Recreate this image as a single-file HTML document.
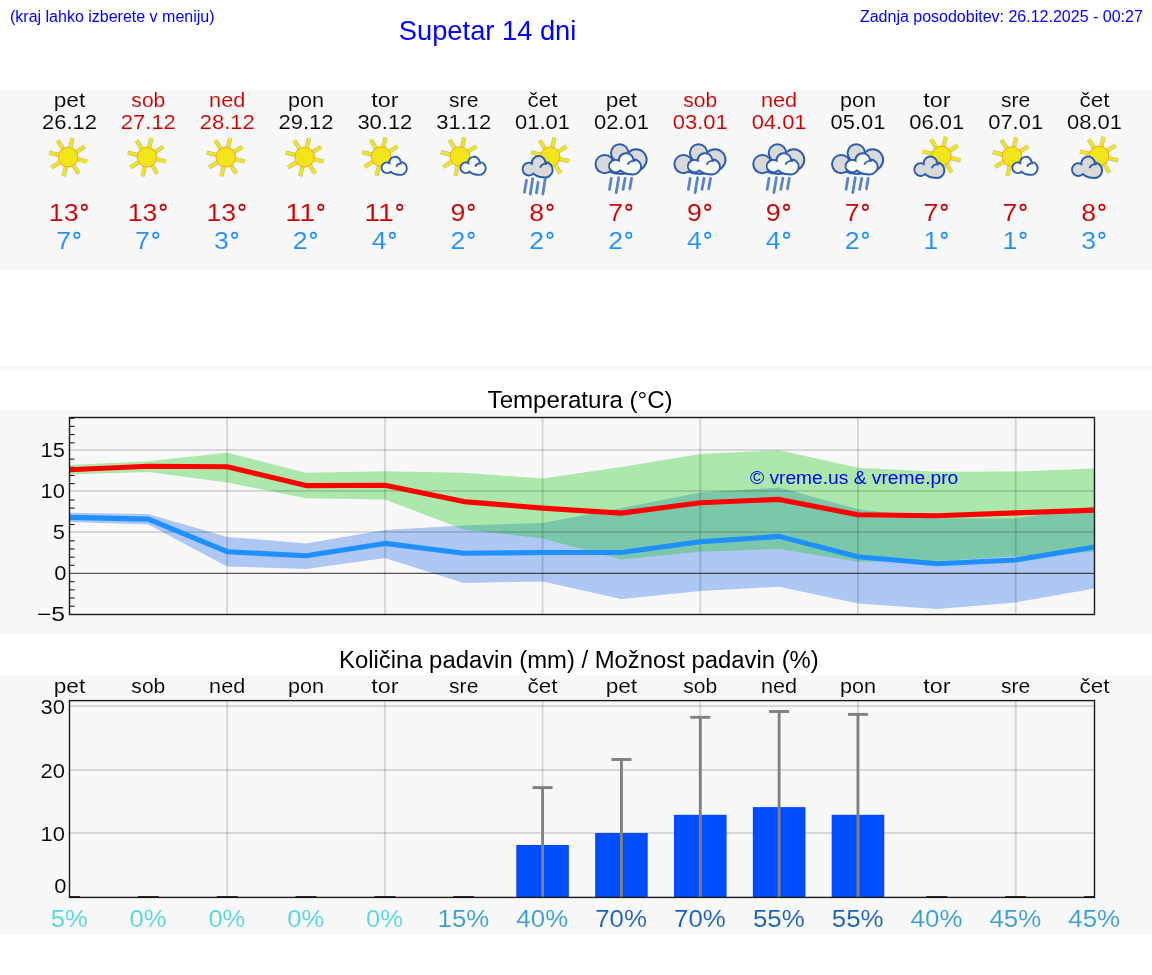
<!DOCTYPE html>
<html><head><meta charset="utf-8"><title>Supetar 14 dni</title><style>
html,body{margin:0;padding:0;background:#fff;width:1152px;height:975px;overflow:hidden}
svg{display:block;will-change:transform}text{font-family:"Liberation Sans",sans-serif}
</style></head><body>
<svg width="1152" height="975" viewBox="0 0 1152 975">
<defs>
<g id="sun">
<g stroke="#8c8c78" stroke-width="4.3" stroke-linecap="butt" opacity="0.6"><line x1="2.02" y1="-8.77" x2="4.41" y2="-19.10"/><line x1="7.63" y1="-4.77" x2="16.62" y2="-10.39"/><line x1="8.77" y1="2.02" x2="19.10" y2="4.41"/><line x1="4.77" y1="7.63" x2="10.39" y2="16.62"/><line x1="-2.02" y1="8.77" x2="-4.41" y2="19.10"/><line x1="-7.63" y1="4.77" x2="-16.62" y2="10.39"/><line x1="-8.77" y1="-2.02" x2="-19.10" y2="-4.41"/><line x1="-4.77" y1="-7.63" x2="-10.39" y2="-16.62"/></g>
<g stroke="#f2e61a" stroke-width="3.1" stroke-linecap="butt"><line x1="2.02" y1="-8.77" x2="4.41" y2="-19.10"/><line x1="7.63" y1="-4.77" x2="16.62" y2="-10.39"/><line x1="8.77" y1="2.02" x2="19.10" y2="4.41"/><line x1="4.77" y1="7.63" x2="10.39" y2="16.62"/><line x1="-2.02" y1="8.77" x2="-4.41" y2="19.10"/><line x1="-7.63" y1="4.77" x2="-16.62" y2="10.39"/><line x1="-8.77" y1="-2.02" x2="-19.10" y2="-4.41"/><line x1="-4.77" y1="-7.63" x2="-10.39" y2="-16.62"/></g>
<circle r="9.8" fill="#f2e61a" stroke="#f6ad20" stroke-width="1.1"/>
</g>
<circle id="dummy" r="0"/>
</defs>
<rect x="0" y="90" width="1152" height="180" fill="#f8f8f8"/>
<rect x="0" y="365" width="1152" height="5" fill="#f8f8f8"/>
<rect x="0" y="410" width="1152" height="225" fill="#f8f8f8"/>
<rect x="0" y="675" width="1152" height="260" fill="#f8f8f8"/>
<text x="10" y="22" font-size="16" fill="#0000ff">(kraj lahko izberete v meniju)</text>
<text x="398.8" y="39.5" font-size="27.3" fill="#0000ff">Supetar 14 dni</text>
<text x="1142.8" y="22" font-size="16" fill="#0000ff" text-anchor="end">Zadnja posodobitev: 26.12.2025 - 00:27</text>
<text x="487.6" y="407.8" font-size="24.1" fill="#000">Temperatura (°C)</text>
<text x="339" y="667.9" font-size="23.85" fill="#000">Količina padavin (mm) / Možnost padavin (%)</text>
<use href="#sun" transform="translate(68.10,157.10) scale(1.0)"/>
<use href="#sun" transform="translate(146.95,157.10) scale(1.0)"/>
<use href="#sun" transform="translate(225.79,157.10) scale(1.0)"/>
<use href="#sun" transform="translate(304.64,157.10) scale(1.0)"/>
<use href="#sun" transform="translate(381.08,156.60) scale(1.0)"/>
<path d="M390.58 171.60A5.30 5.30 0 1 1 389.38 163.10A5.60 5.60 0 0 1 400.68 161.90A6.48 6.48 0 1 1 398.98 174.70A12.00 12.00 0 0 1 390.58 171.60Z" fill="#f9f9f9" stroke="#2b5cb0" stroke-width="1.9"/>
<path d="M396.28 166.60A5.00 5.00 0 0 1 402.18 163.50" fill="none" stroke="#2b5cb0" stroke-width="1.9"/>
<use href="#sun" transform="translate(459.93,156.60) scale(1.0)"/>
<path d="M469.43 171.60A5.30 5.30 0 1 1 468.23 163.10A5.60 5.60 0 0 1 479.53 161.90A6.48 6.48 0 1 1 477.83 174.70A12.00 12.00 0 0 1 469.43 171.60Z" fill="#f9f9f9" stroke="#2b5cb0" stroke-width="1.9"/>
<path d="M475.13 166.60A5.00 5.00 0 0 1 481.03 163.50" fill="none" stroke="#2b5cb0" stroke-width="1.9"/>
<use href="#sun" transform="translate(550.08,156.80) scale(1.0)"/>
<path d="M533.32 173.61A6.31 6.31 0 1 1 531.89 163.50A6.66 6.66 0 0 1 545.34 162.07A7.71 7.71 0 1 1 543.32 177.30A14.28 14.28 0 0 1 533.32 173.61Z" fill="#d9d9d9" stroke="#2b5cb0" stroke-width="2.0"/>
<path d="M540.10 167.66A5.95 5.95 0 0 1 547.12 163.97" fill="none" stroke="#2b5cb0" stroke-width="2.0"/>
<g stroke="#3f70c0" stroke-width="2.8" stroke-linecap="round" opacity="0.85"><line x1="526.5" y1="180.4" x2="524.4" y2="192.2"/><line x1="532.7" y1="178.7" x2="530.3" y2="194.0"/><line x1="538.1" y1="182.5" x2="536.4" y2="192.9"/><line x1="545.2" y1="178.7" x2="542.8" y2="194.0"/></g>
<g transform="translate(0.02,0)">
<g fill="#2b5cb0"><circle cx="604.6" cy="164.1" r="10.1"/><circle cx="619.7" cy="153" r="9.7"/><circle cx="636.1" cy="159.8" r="11.5"/><ellipse cx="621" cy="166" rx="18" ry="9"/></g>
<g fill="#d9d9d9"><circle cx="604.6" cy="164.1" r="8.1"/><circle cx="619.7" cy="153" r="7.7"/><circle cx="636.1" cy="159.8" r="9.5"/><ellipse cx="621" cy="166" rx="16" ry="7"/></g>
</g>
<path d="M620.48 170.57A6.75 6.20 0 1 1 618.95 160.63A7.13 6.55 0 0 1 633.34 159.22A8.25 7.58 0 1 1 631.17 174.20A15.28 14.04 0 0 1 620.48 170.57Z" fill="#f9f9f9" stroke="#2b5cb0" stroke-width="2.0"/>
<path d="M627.73 164.72A6.36 5.85 0 0 1 635.25 161.09" fill="none" stroke="#2b5cb0" stroke-width="2.0"/>
<g stroke="#3f70c0" stroke-width="2.8" stroke-linecap="round" opacity="0.85"><line x1="611.3" y1="178.3" x2="609.5" y2="189.4"/><line x1="618.7" y1="177.7" x2="616.2" y2="192.5"/><line x1="625.2" y1="178.3" x2="623.0" y2="189.4"/><line x1="631.6" y1="178.3" x2="629.8" y2="188.8"/></g>
<g transform="translate(78.87,0)">
<g fill="#2b5cb0"><circle cx="604.6" cy="164.1" r="10.1"/><circle cx="619.7" cy="153" r="9.7"/><circle cx="636.1" cy="159.8" r="11.5"/><ellipse cx="621" cy="166" rx="18" ry="9"/></g>
<g fill="#d9d9d9"><circle cx="604.6" cy="164.1" r="8.1"/><circle cx="619.7" cy="153" r="7.7"/><circle cx="636.1" cy="159.8" r="9.5"/><ellipse cx="621" cy="166" rx="16" ry="7"/></g>
</g>
<path d="M699.33 170.57A6.75 6.20 0 1 1 697.80 160.63A7.13 6.55 0 0 1 712.18 159.22A8.25 7.58 0 1 1 710.02 174.20A15.28 14.04 0 0 1 699.33 170.57Z" fill="#f9f9f9" stroke="#2b5cb0" stroke-width="2.0"/>
<path d="M706.58 164.72A6.36 5.85 0 0 1 714.09 161.09" fill="none" stroke="#2b5cb0" stroke-width="2.0"/>
<g stroke="#3f70c0" stroke-width="2.8" stroke-linecap="round" opacity="0.85"><line x1="690.2" y1="178.3" x2="688.4" y2="189.4"/><line x1="697.6" y1="177.7" x2="695.1" y2="192.5"/><line x1="704.1" y1="178.3" x2="701.9" y2="189.4"/><line x1="710.5" y1="178.3" x2="708.7" y2="188.8"/></g>
<g transform="translate(157.72,0)">
<g fill="#2b5cb0"><circle cx="604.6" cy="164.1" r="10.1"/><circle cx="619.7" cy="153" r="9.7"/><circle cx="636.1" cy="159.8" r="11.5"/><ellipse cx="621" cy="166" rx="18" ry="9"/></g>
<g fill="#d9d9d9"><circle cx="604.6" cy="164.1" r="8.1"/><circle cx="619.7" cy="153" r="7.7"/><circle cx="636.1" cy="159.8" r="9.5"/><ellipse cx="621" cy="166" rx="16" ry="7"/></g>
</g>
<path d="M778.17 170.57A6.75 6.20 0 1 1 776.64 160.63A7.13 6.55 0 0 1 791.03 159.22A8.25 7.58 0 1 1 788.86 174.20A15.28 14.04 0 0 1 778.17 170.57Z" fill="#f9f9f9" stroke="#2b5cb0" stroke-width="2.0"/>
<path d="M785.43 164.72A6.36 5.85 0 0 1 792.94 161.09" fill="none" stroke="#2b5cb0" stroke-width="2.0"/>
<g stroke="#3f70c0" stroke-width="2.8" stroke-linecap="round" opacity="0.85"><line x1="769.0" y1="178.3" x2="767.2" y2="189.4"/><line x1="776.4" y1="177.7" x2="773.9" y2="192.5"/><line x1="782.9" y1="178.3" x2="780.7" y2="189.4"/><line x1="789.3" y1="178.3" x2="787.5" y2="188.8"/></g>
<g transform="translate(236.56,0)">
<g fill="#2b5cb0"><circle cx="604.6" cy="164.1" r="10.1"/><circle cx="619.7" cy="153" r="9.7"/><circle cx="636.1" cy="159.8" r="11.5"/><ellipse cx="621" cy="166" rx="18" ry="9"/></g>
<g fill="#d9d9d9"><circle cx="604.6" cy="164.1" r="8.1"/><circle cx="619.7" cy="153" r="7.7"/><circle cx="636.1" cy="159.8" r="9.5"/><ellipse cx="621" cy="166" rx="16" ry="7"/></g>
</g>
<path d="M857.02 170.57A6.75 6.20 0 1 1 855.49 160.63A7.13 6.55 0 0 1 869.87 159.22A8.25 7.58 0 1 1 867.71 174.20A15.28 14.04 0 0 1 857.02 170.57Z" fill="#f9f9f9" stroke="#2b5cb0" stroke-width="2.0"/>
<path d="M864.27 164.72A6.36 5.85 0 0 1 871.78 161.09" fill="none" stroke="#2b5cb0" stroke-width="2.0"/>
<g stroke="#3f70c0" stroke-width="2.8" stroke-linecap="round" opacity="0.85"><line x1="847.9" y1="178.3" x2="846.1" y2="189.4"/><line x1="855.3" y1="177.7" x2="852.8" y2="192.5"/><line x1="861.8" y1="178.3" x2="859.6" y2="189.4"/><line x1="868.2" y1="178.3" x2="866.4" y2="188.8"/></g>
<use href="#sun" transform="translate(941.41,155.90) scale(1.0)"/>
<path d="M925.05 174.11A6.31 6.31 0 1 1 923.62 164.00A6.66 6.66 0 0 1 937.07 162.57A7.71 7.71 0 1 1 935.05 177.80A14.28 14.28 0 0 1 925.05 174.11Z" fill="#d9d9d9" stroke="#2b5cb0" stroke-width="2.0"/>
<path d="M931.83 168.16A5.95 5.95 0 0 1 938.86 164.47" fill="none" stroke="#2b5cb0" stroke-width="2.0"/>
<use href="#sun" transform="translate(1011.85,156.60) scale(1.0)"/>
<path d="M1021.35 171.60A5.30 5.30 0 1 1 1020.15 163.10A5.60 5.60 0 0 1 1031.45 161.90A6.48 6.48 0 1 1 1029.75 174.70A12.00 12.00 0 0 1 1021.35 171.60Z" fill="#f9f9f9" stroke="#2b5cb0" stroke-width="1.9"/>
<path d="M1027.05 166.60A5.00 5.00 0 0 1 1032.95 163.50" fill="none" stroke="#2b5cb0" stroke-width="1.9"/>
<use href="#sun" transform="translate(1099.10,155.90) scale(1.0)"/>
<path d="M1082.74 174.11A6.31 6.31 0 1 1 1081.32 164.00A6.66 6.66 0 0 1 1094.76 162.57A7.71 7.71 0 1 1 1092.74 177.80A14.28 14.28 0 0 1 1082.74 174.11Z" fill="#d9d9d9" stroke="#2b5cb0" stroke-width="2.0"/>
<path d="M1089.53 168.16A5.95 5.95 0 0 1 1096.55 164.47" fill="none" stroke="#2b5cb0" stroke-width="2.0"/>
<text x="69.50" y="106.80" font-size="20.16" fill="#000000" stroke="#f8f8f8" stroke-width="0.1" text-anchor="middle" textLength="31.51" lengthAdjust="spacingAndGlyphs">pet</text>
<text x="69.50" y="128.70" font-size="20.16" fill="#000000" stroke="#f8f8f8" stroke-width="0.1" text-anchor="middle" textLength="54.93" lengthAdjust="spacingAndGlyphs">26.12</text>
<text x="48.85" y="221.00" font-size="24.47" fill="#cc0000" stroke="#f8f8f8" stroke-width="0.1" textLength="29.64" lengthAdjust="spacingAndGlyphs">13</text>
<circle cx="84.32" cy="207.37" r="2.74" fill="none" stroke="#cc0000" stroke-width="1.54"/>
<text x="56.26" y="249.00" font-size="24.47" fill="#1e90ff" stroke="#f8f8f8" stroke-width="0.1" textLength="14.82" lengthAdjust="spacingAndGlyphs">7</text>
<circle cx="76.91" cy="235.37" r="2.74" fill="none" stroke="#1e90ff" stroke-width="1.54"/>
<text x="148.35" y="106.80" font-size="20.16" fill="#cc0000" stroke="#f8f8f8" stroke-width="0.1" text-anchor="middle" textLength="33.92" lengthAdjust="spacingAndGlyphs">sob</text>
<text x="148.35" y="128.70" font-size="20.16" fill="#cc0000" stroke="#f8f8f8" stroke-width="0.1" text-anchor="middle" textLength="54.93" lengthAdjust="spacingAndGlyphs">27.12</text>
<text x="127.70" y="221.00" font-size="24.47" fill="#cc0000" stroke="#f8f8f8" stroke-width="0.1" textLength="29.64" lengthAdjust="spacingAndGlyphs">13</text>
<circle cx="163.17" cy="207.37" r="2.74" fill="none" stroke="#cc0000" stroke-width="1.54"/>
<text x="135.11" y="249.00" font-size="24.47" fill="#1e90ff" stroke="#f8f8f8" stroke-width="0.1" textLength="14.82" lengthAdjust="spacingAndGlyphs">7</text>
<circle cx="155.76" cy="235.37" r="2.74" fill="none" stroke="#1e90ff" stroke-width="1.54"/>
<text x="227.19" y="106.80" font-size="20.16" fill="#cc0000" stroke="#f8f8f8" stroke-width="0.1" text-anchor="middle" textLength="36.15" lengthAdjust="spacingAndGlyphs">ned</text>
<text x="227.19" y="128.70" font-size="20.16" fill="#cc0000" stroke="#f8f8f8" stroke-width="0.1" text-anchor="middle" textLength="54.93" lengthAdjust="spacingAndGlyphs">28.12</text>
<text x="206.55" y="221.00" font-size="24.47" fill="#cc0000" stroke="#f8f8f8" stroke-width="0.1" textLength="29.64" lengthAdjust="spacingAndGlyphs">13</text>
<circle cx="242.02" cy="207.37" r="2.74" fill="none" stroke="#cc0000" stroke-width="1.54"/>
<text x="213.96" y="249.00" font-size="24.47" fill="#1e90ff" stroke="#f8f8f8" stroke-width="0.1" textLength="14.82" lengthAdjust="spacingAndGlyphs">3</text>
<circle cx="234.60" cy="235.37" r="2.74" fill="none" stroke="#1e90ff" stroke-width="1.54"/>
<text x="306.04" y="106.80" font-size="20.16" fill="#000000" stroke="#f8f8f8" stroke-width="0.1" text-anchor="middle" textLength="36.08" lengthAdjust="spacingAndGlyphs">pon</text>
<text x="306.04" y="128.70" font-size="20.16" fill="#000000" stroke="#f8f8f8" stroke-width="0.1" text-anchor="middle" textLength="54.93" lengthAdjust="spacingAndGlyphs">29.12</text>
<text x="285.39" y="221.00" font-size="24.47" fill="#cc0000" stroke="#f8f8f8" stroke-width="0.1" textLength="29.64" lengthAdjust="spacingAndGlyphs">11</text>
<circle cx="320.86" cy="207.37" r="2.74" fill="none" stroke="#cc0000" stroke-width="1.54"/>
<text x="292.80" y="249.00" font-size="24.47" fill="#1e90ff" stroke="#f8f8f8" stroke-width="0.1" textLength="14.82" lengthAdjust="spacingAndGlyphs">2</text>
<circle cx="313.45" cy="235.37" r="2.74" fill="none" stroke="#1e90ff" stroke-width="1.54"/>
<text x="384.88" y="106.80" font-size="20.16" fill="#000000" stroke="#f8f8f8" stroke-width="0.1" text-anchor="middle" textLength="27.15" lengthAdjust="spacingAndGlyphs">tor</text>
<text x="384.88" y="128.70" font-size="20.16" fill="#000000" stroke="#f8f8f8" stroke-width="0.1" text-anchor="middle" textLength="54.93" lengthAdjust="spacingAndGlyphs">30.12</text>
<text x="364.24" y="221.00" font-size="24.47" fill="#cc0000" stroke="#f8f8f8" stroke-width="0.1" textLength="29.64" lengthAdjust="spacingAndGlyphs">11</text>
<circle cx="399.71" cy="207.37" r="2.74" fill="none" stroke="#cc0000" stroke-width="1.54"/>
<text x="371.65" y="249.00" font-size="24.47" fill="#1e90ff" stroke="#f8f8f8" stroke-width="0.1" textLength="14.82" lengthAdjust="spacingAndGlyphs">4</text>
<circle cx="392.30" cy="235.37" r="2.74" fill="none" stroke="#1e90ff" stroke-width="1.54"/>
<text x="463.73" y="106.80" font-size="20.16" fill="#000000" stroke="#f8f8f8" stroke-width="0.1" text-anchor="middle" textLength="29.27" lengthAdjust="spacingAndGlyphs">sre</text>
<text x="463.73" y="128.70" font-size="20.16" fill="#000000" stroke="#f8f8f8" stroke-width="0.1" text-anchor="middle" textLength="54.93" lengthAdjust="spacingAndGlyphs">31.12</text>
<text x="450.50" y="221.00" font-size="24.47" fill="#cc0000" stroke="#f8f8f8" stroke-width="0.1" textLength="14.82" lengthAdjust="spacingAndGlyphs">9</text>
<circle cx="471.14" cy="207.37" r="2.74" fill="none" stroke="#cc0000" stroke-width="1.54"/>
<text x="450.50" y="249.00" font-size="24.47" fill="#1e90ff" stroke="#f8f8f8" stroke-width="0.1" textLength="14.82" lengthAdjust="spacingAndGlyphs">2</text>
<circle cx="471.14" cy="235.37" r="2.74" fill="none" stroke="#1e90ff" stroke-width="1.54"/>
<text x="542.58" y="106.80" font-size="20.16" fill="#000000" stroke="#f8f8f8" stroke-width="0.1" text-anchor="middle" textLength="29.88" lengthAdjust="spacingAndGlyphs">čet</text>
<text x="542.58" y="128.70" font-size="20.16" fill="#000000" stroke="#f8f8f8" stroke-width="0.1" text-anchor="middle" textLength="54.93" lengthAdjust="spacingAndGlyphs">01.01</text>
<text x="529.34" y="221.00" font-size="24.47" fill="#cc0000" stroke="#f8f8f8" stroke-width="0.1" textLength="14.82" lengthAdjust="spacingAndGlyphs">8</text>
<circle cx="549.99" cy="207.37" r="2.74" fill="none" stroke="#cc0000" stroke-width="1.54"/>
<text x="529.34" y="249.00" font-size="24.47" fill="#1e90ff" stroke="#f8f8f8" stroke-width="0.1" textLength="14.82" lengthAdjust="spacingAndGlyphs">2</text>
<circle cx="549.99" cy="235.37" r="2.74" fill="none" stroke="#1e90ff" stroke-width="1.54"/>
<text x="621.42" y="106.80" font-size="20.16" fill="#000000" stroke="#f8f8f8" stroke-width="0.1" text-anchor="middle" textLength="31.51" lengthAdjust="spacingAndGlyphs">pet</text>
<text x="621.42" y="128.70" font-size="20.16" fill="#000000" stroke="#f8f8f8" stroke-width="0.1" text-anchor="middle" textLength="54.93" lengthAdjust="spacingAndGlyphs">02.01</text>
<text x="608.19" y="221.00" font-size="24.47" fill="#cc0000" stroke="#f8f8f8" stroke-width="0.1" textLength="14.82" lengthAdjust="spacingAndGlyphs">7</text>
<circle cx="628.83" cy="207.37" r="2.74" fill="none" stroke="#cc0000" stroke-width="1.54"/>
<text x="608.19" y="249.00" font-size="24.47" fill="#1e90ff" stroke="#f8f8f8" stroke-width="0.1" textLength="14.82" lengthAdjust="spacingAndGlyphs">2</text>
<circle cx="628.83" cy="235.37" r="2.74" fill="none" stroke="#1e90ff" stroke-width="1.54"/>
<text x="700.27" y="106.80" font-size="20.16" fill="#cc0000" stroke="#f8f8f8" stroke-width="0.1" text-anchor="middle" textLength="33.92" lengthAdjust="spacingAndGlyphs">sob</text>
<text x="700.27" y="128.70" font-size="20.16" fill="#cc0000" stroke="#f8f8f8" stroke-width="0.1" text-anchor="middle" textLength="54.93" lengthAdjust="spacingAndGlyphs">03.01</text>
<text x="687.03" y="221.00" font-size="24.47" fill="#cc0000" stroke="#f8f8f8" stroke-width="0.1" textLength="14.82" lengthAdjust="spacingAndGlyphs">9</text>
<circle cx="707.68" cy="207.37" r="2.74" fill="none" stroke="#cc0000" stroke-width="1.54"/>
<text x="687.03" y="249.00" font-size="24.47" fill="#1e90ff" stroke="#f8f8f8" stroke-width="0.1" textLength="14.82" lengthAdjust="spacingAndGlyphs">4</text>
<circle cx="707.68" cy="235.37" r="2.74" fill="none" stroke="#1e90ff" stroke-width="1.54"/>
<text x="779.12" y="106.80" font-size="20.16" fill="#cc0000" stroke="#f8f8f8" stroke-width="0.1" text-anchor="middle" textLength="36.15" lengthAdjust="spacingAndGlyphs">ned</text>
<text x="779.12" y="128.70" font-size="20.16" fill="#cc0000" stroke="#f8f8f8" stroke-width="0.1" text-anchor="middle" textLength="54.93" lengthAdjust="spacingAndGlyphs">04.01</text>
<text x="765.88" y="221.00" font-size="24.47" fill="#cc0000" stroke="#f8f8f8" stroke-width="0.1" textLength="14.82" lengthAdjust="spacingAndGlyphs">9</text>
<circle cx="786.53" cy="207.37" r="2.74" fill="none" stroke="#cc0000" stroke-width="1.54"/>
<text x="765.88" y="249.00" font-size="24.47" fill="#1e90ff" stroke="#f8f8f8" stroke-width="0.1" textLength="14.82" lengthAdjust="spacingAndGlyphs">4</text>
<circle cx="786.53" cy="235.37" r="2.74" fill="none" stroke="#1e90ff" stroke-width="1.54"/>
<text x="857.96" y="106.80" font-size="20.16" fill="#000000" stroke="#f8f8f8" stroke-width="0.1" text-anchor="middle" textLength="36.08" lengthAdjust="spacingAndGlyphs">pon</text>
<text x="857.96" y="128.70" font-size="20.16" fill="#000000" stroke="#f8f8f8" stroke-width="0.1" text-anchor="middle" textLength="54.93" lengthAdjust="spacingAndGlyphs">05.01</text>
<text x="844.73" y="221.00" font-size="24.47" fill="#cc0000" stroke="#f8f8f8" stroke-width="0.1" textLength="14.82" lengthAdjust="spacingAndGlyphs">7</text>
<circle cx="865.37" cy="207.37" r="2.74" fill="none" stroke="#cc0000" stroke-width="1.54"/>
<text x="844.73" y="249.00" font-size="24.47" fill="#1e90ff" stroke="#f8f8f8" stroke-width="0.1" textLength="14.82" lengthAdjust="spacingAndGlyphs">2</text>
<circle cx="865.37" cy="235.37" r="2.74" fill="none" stroke="#1e90ff" stroke-width="1.54"/>
<text x="936.81" y="106.80" font-size="20.16" fill="#000000" stroke="#f8f8f8" stroke-width="0.1" text-anchor="middle" textLength="27.15" lengthAdjust="spacingAndGlyphs">tor</text>
<text x="936.81" y="128.70" font-size="20.16" fill="#000000" stroke="#f8f8f8" stroke-width="0.1" text-anchor="middle" textLength="54.93" lengthAdjust="spacingAndGlyphs">06.01</text>
<text x="923.57" y="221.00" font-size="24.47" fill="#cc0000" stroke="#f8f8f8" stroke-width="0.1" textLength="14.82" lengthAdjust="spacingAndGlyphs">7</text>
<circle cx="944.22" cy="207.37" r="2.74" fill="none" stroke="#cc0000" stroke-width="1.54"/>
<text x="923.57" y="249.00" font-size="24.47" fill="#1e90ff" stroke="#f8f8f8" stroke-width="0.1" textLength="14.82" lengthAdjust="spacingAndGlyphs">1</text>
<circle cx="944.22" cy="235.37" r="2.74" fill="none" stroke="#1e90ff" stroke-width="1.54"/>
<text x="1015.65" y="106.80" font-size="20.16" fill="#000000" stroke="#f8f8f8" stroke-width="0.1" text-anchor="middle" textLength="29.27" lengthAdjust="spacingAndGlyphs">sre</text>
<text x="1015.65" y="128.70" font-size="20.16" fill="#000000" stroke="#f8f8f8" stroke-width="0.1" text-anchor="middle" textLength="54.93" lengthAdjust="spacingAndGlyphs">07.01</text>
<text x="1002.42" y="221.00" font-size="24.47" fill="#cc0000" stroke="#f8f8f8" stroke-width="0.1" textLength="14.82" lengthAdjust="spacingAndGlyphs">7</text>
<circle cx="1023.07" cy="207.37" r="2.74" fill="none" stroke="#cc0000" stroke-width="1.54"/>
<text x="1002.42" y="249.00" font-size="24.47" fill="#1e90ff" stroke="#f8f8f8" stroke-width="0.1" textLength="14.82" lengthAdjust="spacingAndGlyphs">1</text>
<circle cx="1023.07" cy="235.37" r="2.74" fill="none" stroke="#1e90ff" stroke-width="1.54"/>
<text x="1094.50" y="106.80" font-size="20.16" fill="#000000" stroke="#f8f8f8" stroke-width="0.1" text-anchor="middle" textLength="29.88" lengthAdjust="spacingAndGlyphs">čet</text>
<text x="1094.50" y="128.70" font-size="20.16" fill="#000000" stroke="#f8f8f8" stroke-width="0.1" text-anchor="middle" textLength="54.93" lengthAdjust="spacingAndGlyphs">08.01</text>
<text x="1081.26" y="221.00" font-size="24.47" fill="#cc0000" stroke="#f8f8f8" stroke-width="0.1" textLength="14.82" lengthAdjust="spacingAndGlyphs">8</text>
<circle cx="1101.91" cy="207.37" r="2.74" fill="none" stroke="#cc0000" stroke-width="1.54"/>
<text x="1081.26" y="249.00" font-size="24.47" fill="#1e90ff" stroke="#f8f8f8" stroke-width="0.1" textLength="14.82" lengthAdjust="spacingAndGlyphs">3</text>
<circle cx="1101.91" cy="235.37" r="2.74" fill="none" stroke="#1e90ff" stroke-width="1.54"/>
<text x="65.00" y="457.00" font-size="20.16" fill="#000" stroke="#f8f8f8" stroke-width="0.1" text-anchor="end" textLength="24.42" lengthAdjust="spacingAndGlyphs">15</text>
<text x="65.00" y="498.00" font-size="20.16" fill="#000" stroke="#f8f8f8" stroke-width="0.1" text-anchor="end" textLength="24.42" lengthAdjust="spacingAndGlyphs">10</text>
<text x="65.00" y="539.00" font-size="20.16" fill="#000" stroke="#f8f8f8" stroke-width="0.1" text-anchor="end" textLength="12.21" lengthAdjust="spacingAndGlyphs">5</text>
<text x="66.50" y="580.00" font-size="20.16" fill="#000" stroke="#f8f8f8" stroke-width="0.1" text-anchor="end" textLength="12.21" lengthAdjust="spacingAndGlyphs">0</text>
<text x="65.00" y="621.00" font-size="20.16" fill="#000" stroke="#f8f8f8" stroke-width="0.1" text-anchor="end" textLength="28.28" lengthAdjust="spacingAndGlyphs">−5</text>
<text x="65.00" y="714.00" font-size="20.16" fill="#000" stroke="#f8f8f8" stroke-width="0.1" text-anchor="end" textLength="24.42" lengthAdjust="spacingAndGlyphs">30</text>
<text x="65.00" y="778.00" font-size="20.16" fill="#000" stroke="#f8f8f8" stroke-width="0.1" text-anchor="end" textLength="24.42" lengthAdjust="spacingAndGlyphs">20</text>
<text x="65.00" y="840.80" font-size="20.16" fill="#000" stroke="#f8f8f8" stroke-width="0.1" text-anchor="end" textLength="24.42" lengthAdjust="spacingAndGlyphs">10</text>
<text x="66.50" y="892.90" font-size="20.16" fill="#000" stroke="#f8f8f8" stroke-width="0.1" text-anchor="end" textLength="12.21" lengthAdjust="spacingAndGlyphs">0</text>
<text x="69.50" y="692.70" font-size="20.16" fill="#000" stroke="#f8f8f8" stroke-width="0.1" text-anchor="middle" textLength="31.51" lengthAdjust="spacingAndGlyphs">pet</text>
<text x="148.35" y="692.70" font-size="20.16" fill="#000" stroke="#f8f8f8" stroke-width="0.1" text-anchor="middle" textLength="33.92" lengthAdjust="spacingAndGlyphs">sob</text>
<text x="227.19" y="692.70" font-size="20.16" fill="#000" stroke="#f8f8f8" stroke-width="0.1" text-anchor="middle" textLength="36.15" lengthAdjust="spacingAndGlyphs">ned</text>
<text x="306.04" y="692.70" font-size="20.16" fill="#000" stroke="#f8f8f8" stroke-width="0.1" text-anchor="middle" textLength="36.08" lengthAdjust="spacingAndGlyphs">pon</text>
<text x="384.88" y="692.70" font-size="20.16" fill="#000" stroke="#f8f8f8" stroke-width="0.1" text-anchor="middle" textLength="27.15" lengthAdjust="spacingAndGlyphs">tor</text>
<text x="463.73" y="692.70" font-size="20.16" fill="#000" stroke="#f8f8f8" stroke-width="0.1" text-anchor="middle" textLength="29.27" lengthAdjust="spacingAndGlyphs">sre</text>
<text x="542.58" y="692.70" font-size="20.16" fill="#000" stroke="#f8f8f8" stroke-width="0.1" text-anchor="middle" textLength="29.88" lengthAdjust="spacingAndGlyphs">čet</text>
<text x="621.42" y="692.70" font-size="20.16" fill="#000" stroke="#f8f8f8" stroke-width="0.1" text-anchor="middle" textLength="31.51" lengthAdjust="spacingAndGlyphs">pet</text>
<text x="700.27" y="692.70" font-size="20.16" fill="#000" stroke="#f8f8f8" stroke-width="0.1" text-anchor="middle" textLength="33.92" lengthAdjust="spacingAndGlyphs">sob</text>
<text x="779.12" y="692.70" font-size="20.16" fill="#000" stroke="#f8f8f8" stroke-width="0.1" text-anchor="middle" textLength="36.15" lengthAdjust="spacingAndGlyphs">ned</text>
<text x="857.96" y="692.70" font-size="20.16" fill="#000" stroke="#f8f8f8" stroke-width="0.1" text-anchor="middle" textLength="36.08" lengthAdjust="spacingAndGlyphs">pon</text>
<text x="936.81" y="692.70" font-size="20.16" fill="#000" stroke="#f8f8f8" stroke-width="0.1" text-anchor="middle" textLength="27.15" lengthAdjust="spacingAndGlyphs">tor</text>
<text x="1015.65" y="692.70" font-size="20.16" fill="#000" stroke="#f8f8f8" stroke-width="0.1" text-anchor="middle" textLength="29.27" lengthAdjust="spacingAndGlyphs">sre</text>
<text x="1094.50" y="692.70" font-size="20.16" fill="#000" stroke="#f8f8f8" stroke-width="0.1" text-anchor="middle" textLength="29.88" lengthAdjust="spacingAndGlyphs">čet</text>
<text x="69.20" y="926.60" font-size="24.47" fill="#55d4e4" stroke="#f8f8f8" stroke-width="0.1" text-anchor="middle" textLength="36.96" lengthAdjust="spacingAndGlyphs">5%</text>
<text x="148.05" y="926.60" font-size="24.47" fill="#55d4e4" stroke="#f8f8f8" stroke-width="0.1" text-anchor="middle" textLength="36.96" lengthAdjust="spacingAndGlyphs">0%</text>
<text x="226.89" y="926.60" font-size="24.47" fill="#55d4e4" stroke="#f8f8f8" stroke-width="0.1" text-anchor="middle" textLength="36.96" lengthAdjust="spacingAndGlyphs">0%</text>
<text x="305.74" y="926.60" font-size="24.47" fill="#55d4e4" stroke="#f8f8f8" stroke-width="0.1" text-anchor="middle" textLength="36.96" lengthAdjust="spacingAndGlyphs">0%</text>
<text x="384.58" y="926.60" font-size="24.47" fill="#55d4e4" stroke="#f8f8f8" stroke-width="0.1" text-anchor="middle" textLength="36.96" lengthAdjust="spacingAndGlyphs">0%</text>
<text x="463.43" y="926.60" font-size="24.47" fill="#3b9fd6" stroke="#f8f8f8" stroke-width="0.1" text-anchor="middle" textLength="51.78" lengthAdjust="spacingAndGlyphs">15%</text>
<text x="542.28" y="926.60" font-size="24.47" fill="#3b9fd6" stroke="#f8f8f8" stroke-width="0.1" text-anchor="middle" textLength="51.78" lengthAdjust="spacingAndGlyphs">40%</text>
<text x="621.12" y="926.60" font-size="24.47" fill="#1a62b8" stroke="#f8f8f8" stroke-width="0.1" text-anchor="middle" textLength="51.78" lengthAdjust="spacingAndGlyphs">70%</text>
<text x="699.97" y="926.60" font-size="24.47" fill="#1a62b8" stroke="#f8f8f8" stroke-width="0.1" text-anchor="middle" textLength="51.78" lengthAdjust="spacingAndGlyphs">70%</text>
<text x="778.82" y="926.60" font-size="24.47" fill="#1a62b8" stroke="#f8f8f8" stroke-width="0.1" text-anchor="middle" textLength="51.78" lengthAdjust="spacingAndGlyphs">55%</text>
<text x="857.66" y="926.60" font-size="24.47" fill="#1a62b8" stroke="#f8f8f8" stroke-width="0.1" text-anchor="middle" textLength="51.78" lengthAdjust="spacingAndGlyphs">55%</text>
<text x="936.51" y="926.60" font-size="24.47" fill="#3b9fd6" stroke="#f8f8f8" stroke-width="0.1" text-anchor="middle" textLength="51.78" lengthAdjust="spacingAndGlyphs">40%</text>
<text x="1015.35" y="926.60" font-size="24.47" fill="#3b9fd6" stroke="#f8f8f8" stroke-width="0.1" text-anchor="middle" textLength="51.78" lengthAdjust="spacingAndGlyphs">45%</text>
<text x="1094.20" y="926.60" font-size="24.47" fill="#3b9fd6" stroke="#f8f8f8" stroke-width="0.1" text-anchor="middle" textLength="51.78" lengthAdjust="spacingAndGlyphs">45%</text>
<g>
<clipPath id="tclip"><rect x="69.5" y="417.5" width="1025" height="197"/></clipPath>
<g clip-path="url(#tclip)">
<polygon points="69.5,512.8 148.3,513.9 227.2,536.9 306.0,543.4 384.9,530.0 463.7,525.4 542.6,522.9 621.4,508.1 700.3,492.5 779.1,487.6 858.0,509.2 936.8,518.5 1015.7,518.5 1094.5,506.5 1094.5,588.6 1015.7,602.4 936.8,608.9 858.0,603.4 779.1,586.8 700.3,591.0 621.4,599.0 542.6,581.5 463.7,582.9 384.9,557.9 306.0,568.9 227.2,566.4 148.3,524.6 69.5,522.0" fill="#6495ed" fill-opacity="0.5"/>
<polygon points="69.5,465.1 148.3,461.3 227.2,452.8 306.0,472.8 384.9,471.2 463.7,472.8 542.6,478.6 621.4,467.1 700.3,454.0 779.1,450.2 858.0,467.7 936.8,471.8 1015.7,471.4 1094.5,468.6 1094.5,551.7 1015.7,556.3 936.8,560.9 858.0,561.8 779.1,548.9 700.3,551.7 621.4,559.5 542.6,538.5 463.7,529.5 384.9,499.4 306.0,498.3 227.2,482.4 148.3,472.0 69.5,474.4" fill="#14c814" fill-opacity="0.335"/>
<g stroke="#000" stroke-opacity="0.135" stroke-width="2"><line x1="69.5" y1="450" x2="1094.5" y2="450"/><line x1="69.5" y1="491" x2="1094.5" y2="491"/><line x1="69.5" y1="532" x2="1094.5" y2="532"/><line x1="227.2" y1="417.5" x2="227.2" y2="614.5"/><line x1="384.9" y1="417.5" x2="384.9" y2="614.5"/><line x1="542.6" y1="417.5" x2="542.6" y2="614.5"/><line x1="700.3" y1="417.5" x2="700.3" y2="614.5"/><line x1="858.0" y1="417.5" x2="858.0" y2="614.5"/><line x1="1015.7" y1="417.5" x2="1015.7" y2="614.5"/></g>
<line x1="69.5" y1="573.4" x2="1094.5" y2="573.4" stroke="#000" stroke-opacity="0.65" stroke-width="1.1"/>
</g>
<g stroke="#1a1a1a" stroke-width="1.1"><line x1="69.5" y1="606.2" x2="74.5" y2="606.2"/><line x1="69.5" y1="598.0" x2="74.5" y2="598.0"/><line x1="69.5" y1="589.8" x2="74.5" y2="589.8"/><line x1="69.5" y1="581.7" x2="74.5" y2="581.7"/><line x1="69.5" y1="565.3" x2="74.5" y2="565.3"/><line x1="69.5" y1="557.2" x2="74.5" y2="557.2"/><line x1="69.5" y1="549.0" x2="74.5" y2="549.0"/><line x1="69.5" y1="540.8" x2="74.5" y2="540.8"/><line x1="69.5" y1="524.5" x2="74.5" y2="524.5"/><line x1="69.5" y1="516.3" x2="74.5" y2="516.3"/><line x1="69.5" y1="508.1" x2="74.5" y2="508.1"/><line x1="69.5" y1="500.0" x2="74.5" y2="500.0"/><line x1="69.5" y1="483.6" x2="74.5" y2="483.6"/><line x1="69.5" y1="475.5" x2="74.5" y2="475.5"/><line x1="69.5" y1="467.3" x2="74.5" y2="467.3"/><line x1="69.5" y1="459.1" x2="74.5" y2="459.1"/><line x1="69.5" y1="442.8" x2="74.5" y2="442.8"/><line x1="69.5" y1="434.6" x2="74.5" y2="434.6"/><line x1="69.5" y1="426.4" x2="74.5" y2="426.4"/><line x1="69.5" y1="418.3" x2="74.5" y2="418.3"/></g>
<g clip-path="url(#tclip)">
<polyline points="69.5,469.7 148.3,466.3 227.2,466.8 306.0,485.6 384.9,485.2 463.7,501.6 542.6,508.1 621.4,513.1 700.3,502.7 779.1,499.4 858.0,514.8 936.8,515.7 1015.7,512.9 1094.5,510.1" fill="none" stroke="#ff0000" stroke-width="5.1" stroke-linejoin="round"/>
<polyline points="69.5,517.4 148.3,519.1 227.2,551.7 306.0,555.8 384.9,543.4 463.7,553.3 542.6,552.5 621.4,552.5 700.3,541.8 779.1,536.4 858.0,556.7 936.8,563.7 1015.7,560.0 1094.5,547.1" fill="none" stroke="#1e90ff" stroke-width="5.1" stroke-linejoin="round"/>
</g>
<rect x="69.5" y="417.5" width="1025" height="197" fill="none" stroke="#1a1a1a" stroke-width="1.4"/>
<text x="750" y="483.6" font-size="19.2" fill="#0000ee">© vreme.us &amp; vreme.pro</text>
</g>
<g stroke="#000" stroke-opacity="0.135" stroke-width="2"><line x1="69.5" y1="705.9" x2="1094.5" y2="705.9"/><line x1="69.5" y1="769.9" x2="1094.5" y2="769.9"/><line x1="69.5" y1="833.0" x2="1094.5" y2="833.0"/><line x1="227.2" y1="700.5" x2="227.2" y2="897"/><line x1="384.9" y1="700.5" x2="384.9" y2="897"/><line x1="542.6" y1="700.5" x2="542.6" y2="897"/><line x1="700.3" y1="700.5" x2="700.3" y2="897"/><line x1="858.0" y1="700.5" x2="858.0" y2="897"/><line x1="1015.7" y1="700.5" x2="1015.7" y2="897"/></g>
<rect x="516.29" y="845" width="52.56" height="52.0" fill="#004cff"/>
<rect x="595.14" y="833" width="52.56" height="64.0" fill="#004cff"/>
<rect x="673.99" y="814.8" width="52.56" height="82.2" fill="#004cff"/>
<rect x="752.83" y="807.1" width="52.56" height="89.9" fill="#004cff"/>
<rect x="831.68" y="814.8" width="52.56" height="82.2" fill="#004cff"/>
<line x1="542.58" y1="787.6" x2="542.58" y2="897" stroke="#808080" stroke-width="2.9"/>
<line x1="532.58" y1="787.6" x2="552.58" y2="787.6" stroke="#808080" stroke-width="2.9"/>
<line x1="621.42" y1="759.5" x2="621.42" y2="897" stroke="#808080" stroke-width="2.9"/>
<line x1="611.42" y1="759.5" x2="631.42" y2="759.5" stroke="#808080" stroke-width="2.9"/>
<line x1="700.27" y1="717.3" x2="700.27" y2="897" stroke="#808080" stroke-width="2.9"/>
<line x1="690.27" y1="717.3" x2="710.27" y2="717.3" stroke="#808080" stroke-width="2.9"/>
<line x1="779.12" y1="711.5" x2="779.12" y2="897" stroke="#808080" stroke-width="2.9"/>
<line x1="769.12" y1="711.5" x2="789.12" y2="711.5" stroke="#808080" stroke-width="2.9"/>
<line x1="857.96" y1="714.4" x2="857.96" y2="897" stroke="#808080" stroke-width="2.9"/>
<line x1="847.96" y1="714.4" x2="867.96" y2="714.4" stroke="#808080" stroke-width="2.9"/>
<rect x="69.5" y="700.6" width="1025" height="196.8" fill="none" stroke="#1a1a1a" stroke-width="1.4"/>
<line x1="69.50" y1="897" x2="80.00" y2="897" stroke="#111" stroke-width="1.7"/>
<line x1="137.85" y1="897" x2="158.85" y2="897" stroke="#111" stroke-width="1.7"/>
<line x1="216.69" y1="897" x2="237.69" y2="897" stroke="#111" stroke-width="1.7"/>
<line x1="295.54" y1="897" x2="316.54" y2="897" stroke="#111" stroke-width="1.7"/>
<line x1="374.38" y1="897" x2="395.38" y2="897" stroke="#111" stroke-width="1.7"/>
<line x1="453.23" y1="897" x2="474.23" y2="897" stroke="#111" stroke-width="1.7"/>
<line x1="926.31" y1="897" x2="947.31" y2="897" stroke="#111" stroke-width="1.7"/>
<line x1="1005.15" y1="897" x2="1026.15" y2="897" stroke="#111" stroke-width="1.7"/>
<line x1="1084.00" y1="897" x2="1094.50" y2="897" stroke="#111" stroke-width="1.7"/>
</svg></body></html>
